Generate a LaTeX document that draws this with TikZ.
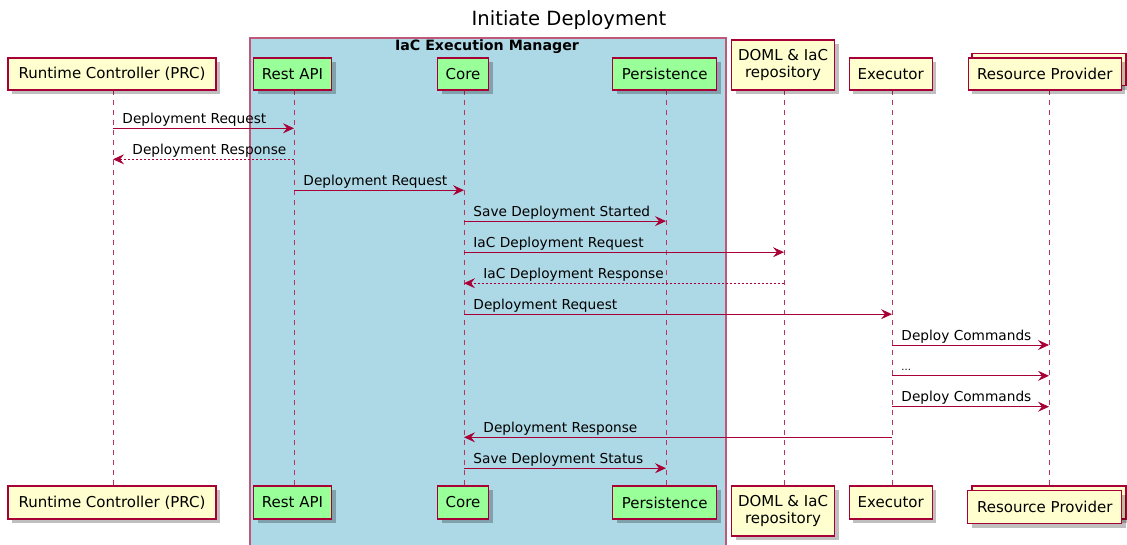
\documentclass[tikz,border=0pt]{standalone}
\usepackage{fontspec}
\setmainfont{DejaVu Sans}
\usetikzlibrary{arrows.meta,shadows,calc}
\definecolor{pu}{HTML}{A80036}
\definecolor{yel}{HTML}{FEFECE}
\definecolor{grn}{HTML}{99FF99}
\definecolor{grpfill}{HTML}{ADD8E6}
\definecolor{grpline}{HTML}{C0587A}
\begin{document}
\begin{tikzpicture}[x=1pt,y=-1pt,
  part/.style={draw=pu, line width=1.2pt, inner sep=0pt, fill=yel, text=black,
    font=\fontsize{15}{17.5}\selectfont, align=center,
    drop shadow={shadow xshift=4pt, shadow yshift=-4pt, opacity=0.25, fill=black}},
  gpart/.style={part, fill=grn},
  life/.style={pu!80, line width=0.9pt, dash pattern=on 5pt off 5pt},
  msg/.style={pu, line width=0.9pt, -{Stealth[length=11pt,width=10pt,inset=4pt]}},
  ret/.style={msg, dash pattern=on 2pt off 2pt},
  lab/.style={text=black, font=\fontsize{13.7}{15}\selectfont, anchor=base west, inner sep=0pt}]
\clip (0,0) rectangle (1127,544);
\fill[white] (0,0) rectangle (1127,544);
% group
\node[fill=grpfill, draw=grpline, line width=1.5pt, anchor=north west, inner sep=0pt,
  minimum width=476, minimum height=520] (grp) at (249,37) {};
\node[font=\bfseries\fontsize{14.2}{16}\selectfont, anchor=base, inner sep=0pt] (gtitle) at (487,50.5) {IaC Execution Manager};
% title
\node[font=\fontsize{19.6}{22}\selectfont, anchor=base, inner sep=0pt] (title) at (569,25) {Initiate Deployment};
% lifeline coordinates
\coordinate (prcA) at (113,90);   \coordinate (prcZ) at (113,486);
\coordinate (restA) at (294,90);  \coordinate (restZ) at (294,486);
\coordinate (coreA) at (464,90);  \coordinate (coreZ) at (464,486);
\coordinate (persA) at (666,90);  \coordinate (persZ) at (666,486);
\coordinate (domlA) at (784,90);  \coordinate (domlZ) at (784,486);
\coordinate (execA) at (892,90);  \coordinate (execZ) at (892,486);
\coordinate (rpA) at (1049,90);   \coordinate (rpZ) at (1049,486);
\foreach \l in {prc,rest,core,pers,doml,exec,rp}
  \draw[life] (\l A) -- (\l Z);
% top participants
\node[part, minimum width=208, minimum height=32] (prcT) at (112,74) {Runtime Controller (PRC)};
\node[gpart, minimum width=78, minimum height=32] (restT) at (292.5,74) {Rest API};
\node[gpart, minimum width=51, minimum height=32] (coreT) at (463,74) {Core};
\node[gpart, minimum width=104, minimum height=32] (persT) at (664.7,74) {Persistence};
\node[part, minimum width=103, minimum height=50] (domlT) at (783,65) {DOML \& IaC\\repository};
\node[part, minimum width=83, minimum height=32] (execT) at (890.7,74) {Executor};
\node[part, minimum width=154, minimum height=32] (rpTback) at (1049,69.5) {};
\node[part, minimum width=153, minimum height=32] (rpT) at (1044.8,74) {Resource Provider};
% bottom participants
\node[part, minimum width=208, minimum height=33] (prcB) at (112,502.5) {Runtime Controller (PRC)};
\node[gpart, minimum width=78, minimum height=33] (restB) at (292.5,502.5) {Rest API};
\node[gpart, minimum width=51, minimum height=33] (coreB) at (463,502.5) {Core};
\node[gpart, minimum width=104, minimum height=33] (persB) at (664.7,502.5) {Persistence};
\node[part, minimum width=103, minimum height=50] (domlB) at (783,511) {DOML \& IaC\\repository};
\node[part, minimum width=83, minimum height=33] (execB) at (890.7,502.5) {Executor};
\node[part, minimum width=154, minimum height=33] (rpBback) at (1049,502.5) {};
\node[part, minimum width=154, minimum height=33] (rpB) at (1044.8,507.3) {Resource Provider};
% message rows
\coordinate (y1) at (0,128.3);
\coordinate (y2) at (0,159.3);
\coordinate (y3) at (0,190.2);
\coordinate (y4) at (0,221.1);
\coordinate (y5) at (0,252.2);
\coordinate (y6) at (0,283.2);
\coordinate (y7) at (0,314.2);
\coordinate (y8) at (0,345);
\coordinate (y9) at (0,375.8);
\coordinate (y10) at (0,406.7);
\coordinate (y11) at (0,437.3);
\coordinate (y12) at (0,468.2);
\draw[msg] (prcA |- y1) -- (restA |- y1) node[lab, at start, xshift=9pt, yshift=5pt] {Deployment Request};
\draw[ret] (restA |- y2) -- (prcA |- y2) node[lab, at end, xshift=19pt, yshift=5pt] {Deployment Response};
\draw[msg] (restA |- y3) -- (coreA |- y3) node[lab, at start, xshift=9pt, yshift=5pt] {Deployment Request};
\draw[msg] (coreA |- y4) -- (persA |- y4) node[lab, at start, xshift=9pt, yshift=5pt] {Save Deployment Started};
\draw[msg] (coreA |- y5) -- (domlA |- y5) node[lab, at start, xshift=9pt, yshift=5pt] {IaC Deployment Request};
\draw[ret] (domlA |- y6) -- (coreA |- y6) node[lab, at end, xshift=19pt, yshift=5pt] {IaC Deployment Response};
\draw[msg] (coreA |- y7) -- (execA |- y7) node[lab, at start, xshift=9pt, yshift=5pt] {Deployment Request};
\draw[msg] (execA |- y8) -- (rpA |- y8) node[lab, at start, xshift=9pt, yshift=5pt] {Deploy Commands};
\draw[msg] (execA |- y9) -- (rpA |- y9) node[lab, at start, xshift=9pt, yshift=5pt, font=\fontsize{10}{11}\selectfont] {...};
\draw[msg] (execA |- y10) -- (rpA |- y10) node[lab, at start, xshift=9pt, yshift=5pt] {Deploy Commands};
\draw[msg] (execA |- y11) -- (coreA |- y11) node[lab, at end, xshift=19pt, yshift=5pt] {Deployment Response};
\draw[msg] (coreA |- y12) -- (persA |- y12) node[lab, at start, xshift=9pt, yshift=5pt] {Save Deployment Status};
\end{tikzpicture}
\end{document}
